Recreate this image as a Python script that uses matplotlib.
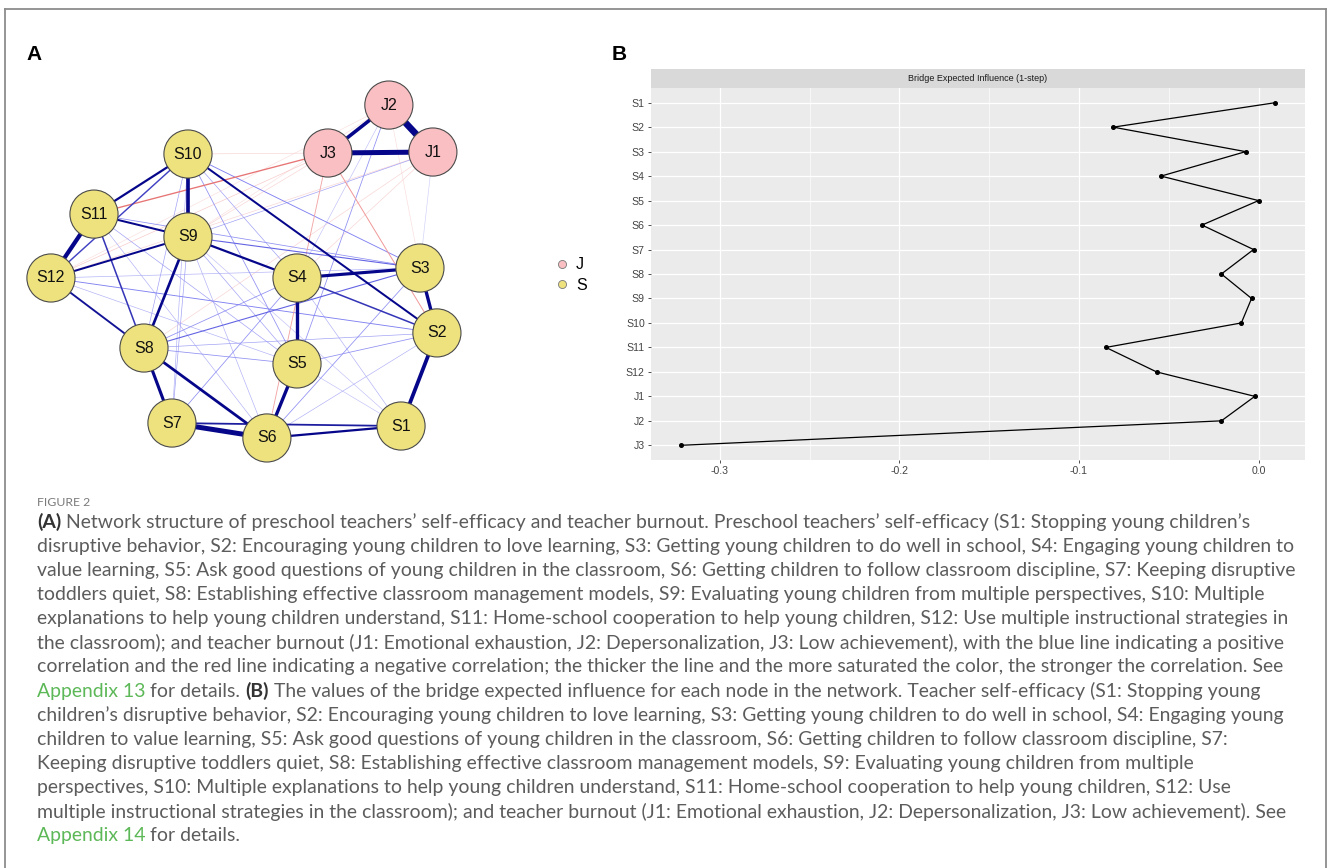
import re
import numpy as np
import matplotlib
matplotlib.use('Agg')
import matplotlib.pyplot as plt
from matplotlib.colors import LinearSegmentedColormap
from matplotlib.lines import Line2D
from matplotlib.patches import Rectangle

# ---------------- data ----------------
# network nodes (qgraph-like layout, units -1..1)
node_names = ["J1", "J2", "J3", "S1", "S2", "S3", "S4", "S5", "S6", "S7", "S8", "S9", "S10", "S11", "S12"]
node_group = ["J", "J", "J", "S", "S", "S", "S", "S", "S", "S", "S", "S", "S", "S", "S"]
layout_x = [0.984, 0.756, 0.440, 0.819, 1.005, 0.917, 0.280, 0.280, 0.124, -0.368, -0.513, -0.285, -0.285, -0.772, -0.995]
layout_y = [0.717, 1.000, 0.711, -0.934, -0.373, 0.018, -0.042, -0.560, -1.006, -0.916, -0.464, 0.205, 0.705, 0.343, -0.042]

# partial correlations (edge weights)
edge_from = ["J1", "J1", "J2", "S7", "S11", "S10", "S2", "S3", "S4", "S5", "S4", "S8", "S8", "S9",
             "S10", "S10", "S9", "S11", "S12", "S12", "S11", "S6", "S7", "S4", "S10",
             "S9", "S8", "S12", "S12", "S8", "S8", "S10", "S10", "S10", "S10", "S11", "S11", "S9", "S9",
             "S12", "S4", "S3", "S2", "S4", "S5", "S9", "S8", "S2", "S7", "S11", "S9",
             "J2", "J1", "J1", "J2",
             "J3", "J3", "J3", "J3", "J1", "J2", "J3", "J1", "J2", "J1", "J2", "J3"]
edge_to = ["J2", "J3", "J3", "S6", "S12", "S9", "S1", "S2", "S5", "S6", "S3", "S7", "S6", "S8",
           "S11", "S2", "S4", "S9", "S9", "S8", "S8", "S1", "S1", "S2", "S12",
           "S3", "S3", "S2", "S3", "S5", "S4", "S5", "S4", "S3", "S8", "S5", "S3", "S5", "S7",
           "S5", "S7", "S6", "S5", "S1", "S1", "S1", "S2", "S6", "S10", "S6", "S6",
           "S5", "S9", "S3", "S4",
           "S11", "S2", "S6", "S12", "S12", "S12", "S10", "S8", "S9", "S4", "S3", "S9"]
edge_weight = [0.60, 0.45, 0.32, 0.45, 0.38, 0.33, 0.34, 0.30, 0.30, 0.30, 0.28, 0.28, 0.25, 0.24,
               0.20, 0.18, 0.20, 0.18, 0.18, 0.17, 0.14, 0.20, 0.16, 0.14, 0.13,
               0.10, 0.10, 0.08, 0.05, 0.07, 0.07, 0.07, 0.06, 0.08, 0.06, 0.06, 0.07, 0.06, 0.06,
               0.05, 0.07, 0.07, 0.07, 0.05, 0.04, 0.04, 0.06, 0.05, 0.05, 0.05, 0.05,
               0.07, 0.06, 0.03, 0.04,
               -0.12, -0.09, -0.08, -0.05, -0.04, -0.03, -0.04, -0.04, -0.03, -0.04, -0.03, -0.04]

group_labels = ["J", "S"]
group_colors = {"J": "#F9BFC3", "S": "#EEE27E"}

# bridge expected influence (1-step)
bei_nodes = ["S1", "S2", "S3", "S4", "S5", "S6", "S7", "S8", "S9", "S10", "S11", "S12", "J1", "J2", "J3"]
bei_values = [0.0093, -0.0809, -0.0072, -0.0543, 0.0000, -0.0315, -0.0028, -0.0207, -0.0039,
              -0.0096, -0.0850, -0.0568, -0.0021, -0.0207, -0.3217]
bei_xticks = [-0.3, -0.2, -0.1, 0.0]

caption_head = "FIGURE 2"
caption_lines = [
    "**(A)** Network structure of preschool teachers\u2019 self-efficacy and teacher burnout. Preschool teachers\u2019 self-efficacy (S1: Stopping young children\u2019s",
    "disruptive behavior, S2: Encouraging young children to love learning, S3: Getting young children to do well in school, S4: Engaging young children to",
    "value learning, S5: Ask good questions of young children in the classroom, S6: Getting children to follow classroom discipline, S7: Keeping disruptive",
    "toddlers quiet, S8: Establishing effective classroom management models, S9: Evaluating young children from multiple perspectives, S10: Multiple",
    "explanations to help young children understand, S11: Home-school cooperation to help young children, S12: Use multiple instructional strategies in",
    "the classroom); and teacher burnout (J1: Emotional exhaustion, J2: Depersonalization, J3: Low achievement), with the blue line indicating a positive",
    "correlation and the red line indicating a negative correlation; the thicker the line and the more saturated the color, the stronger the correlation. See",
    "[[Appendix 13]] for details. **(B)** The values of the bridge expected influence for each node in the network. Teacher self-efficacy (S1: Stopping young",
    "children\u2019s disruptive behavior, S2: Encouraging young children to love learning, S3: Getting young children to do well in school, S4: Engaging young",
    "children to value learning, S5: Ask good questions of young children in the classroom, S6: Getting children to follow classroom discipline, S7:",
    "Keeping disruptive toddlers quiet, S8: Establishing effective classroom management models, S9: Evaluating young children from multiple",
    "perspectives, S10: Multiple explanations to help young children understand, S11: Home-school cooperation to help young children, S12: Use",
    "multiple instructional strategies in the classroom); and teacher burnout (J1: Emotional exhaustion, J2: Depersonalization, J3: Low achievement). See",
    "[[Appendix 14]] for details.",
]

# ---------------- figure ----------------
W, H = 1328, 868
fig = plt.figure(figsize=(W / 100, H / 100), dpi=100)
fig.patch.set_facecolor('white')


def fx(px):
    return px / W


def fy(py):
    return 1 - py / H


# outer frame
for xs, ys in [([5, 5], [9, 868]), ([5, 1326], [9, 9]), ([1326, 1326], [9, 868])]:
    fig.add_artist(Line2D([fx(v) for v in xs], [fy(v) for v in ys], color='#8c8c8c', lw=1.3))

# ---------------- panel A: network ----------------
ax_a = fig.add_axes([0, fy(470), fx(600), (470 - 40) / H])
ax_a.set_xlim(-1.259, 1.850)
ax_a.set_ylim(-1.199, 1.392)
ax_a.axis('off')

pos = {n: (x, y) for n, x, y in zip(node_names, layout_x, layout_y)}
blues = LinearSegmentedColormap.from_list('pos', ['#FFFFFF', '#7070F0', '#06068A'])
reds = LinearSegmentedColormap.from_list('neg', ['#FFFFFF', '#F09A9A', '#D42A2A'])
max_w = max(abs(w) for w in edge_weight)

order = np.argsort(np.abs(edge_weight))
for i in order:
    a, b, w = edge_from[i], edge_to[i], edge_weight[i]
    strength = min(1.0, abs(w) / 0.18)
    col = blues(strength) if w > 0 else reds(strength)
    lw = max(0.45, 4.8 * abs(w) / max_w)
    ax_a.plot([pos[a][0], pos[b][0]], [pos[a][1], pos[b][1]], color=col, lw=lw,
              solid_capstyle='butt', zorder=1)

ax_a.scatter(layout_x, layout_y, s=1200, c=[group_colors[g] for g in node_group],
             edgecolors='#4a4a4a', linewidths=0.8, zorder=3)
for n, x, y in zip(node_names, layout_x, layout_y):
    ax_a.text(x, y, n, ha='center', va='center', fontsize=11.5, family='Liberation Sans',
              color='#111111', zorder=4)

handles = [Line2D([], [], ls='none', marker='o', ms=5.8, mfc=group_colors[g], mec='#777777',
                  mew=0.6, label=g) for g in group_labels]
ax_a.legend(handles=handles, loc='upper left', bbox_to_anchor=(fx(540), fy(243)),
            bbox_transform=fig.transFigure, frameon=False, handletextpad=0.35,
            labelspacing=0.35, handlelength=1.0, prop={'family': 'Liberation Sans', 'size': 11.5})

fig.text(fx(26), fy(54), 'A', fontsize=15, fontweight='bold', family='Liberation Sans', va='center')
fig.text(fx(612), fy(54), 'B', fontsize=15, fontweight='bold', family='Liberation Sans', va='center')

# ---------------- panel B: bridge expected influence ----------------
ax_b = fig.add_axes([fx(651), fy(460), fx(1305) - fx(651), (460 - 88) / H])
ax_b.set_facecolor('#EBEBEB')
ypos = np.arange(len(bei_nodes))[::-1]
ax_b.plot(bei_values, ypos, color='black', lw=0.9, marker='o', ms=2.6, zorder=3)
rng = max(bei_values) - min(bei_values)
ax_b.set_xlim(min(bei_values) - 0.05 * rng, max(bei_values) + 0.05 * rng)
ax_b.set_ylim(-0.6, len(bei_nodes) - 0.4)
ax_b.set_yticks(ypos)
ax_b.set_yticklabels(bei_nodes)
ax_b.set_xticks(bei_xticks)
ax_b.set_xticklabels(['%.1f' % v for v in bei_xticks])
ax_b.set_xticks([-0.25, -0.15, -0.05], minor=True)
ax_b.grid(which='major', color='white', lw=0.9)
ax_b.grid(which='minor', axis='x', color='white', lw=0.45)
ax_b.set_axisbelow(True)
for sp in ax_b.spines.values():
    sp.set_visible(False)
ax_b.tick_params(axis='both', which='major', length=2.5, width=0.6, color='#333333',
                 labelsize=7.6, labelcolor='#444444', pad=2)
ax_b.tick_params(which='minor', length=0)
for lab in ax_b.get_xticklabels() + ax_b.get_yticklabels():
    lab.set_family('Liberation Sans')
strip_h = 19 / 372
ax_b.add_patch(Rectangle((0, 1), 1, strip_h, transform=ax_b.transAxes, clip_on=False,
                         facecolor='#D9D9D9', edgecolor='none'))
ax_b.text(0.5, 1 + strip_h / 2, 'Bridge Expected Influence (1-step)', transform=ax_b.transAxes,
          ha='center', va='center', fontsize=6.5, color='#1A1A1A', family='Liberation Sans')

# ---------------- caption ----------------
renderer = fig.canvas.get_renderer()
cap_font = 'Lato'


def text_width(s, **kw):
    t = fig.text(0, 0, s, **kw)
    w = t.get_window_extent(renderer).width
    t.remove()
    return w


plain2 = caption_lines[1]
size = 12 * 1256 / text_width(plain2, fontsize=12, family=cap_font)
head_size = 9 * 53 / text_width(caption_head, fontsize=9, family=cap_font)
fig.text(fx(37), fy(502), caption_head, fontsize=head_size, family=cap_font, color='#7a7a7a', va='center')

space = (text_width('a a', fontsize=size, family=cap_font)
         - text_width('aa', fontsize=size, family=cap_font))
styles = {'plain': dict(color='#5c5c5c'),
          'bold': dict(color='#333333', fontweight='bold'),
          'link': dict(color='#5DB858')}

for k, line in enumerate(caption_lines):
    y = 522 + 24.15 * k
    x = 37
    for part in re.split(r'(\*\*.*?\*\*|\[\[.*?\]\])', line):
        if not part:
            continue
        if part.startswith('**'):
            st, part = 'bold', part[2:-2]
        elif part.startswith('[['):
            st, part = 'link', part[2:-2]
        else:
            st = 'plain'
        lead = len(part) - len(part.lstrip(' '))
        trail = len(part) - len(part.rstrip(' '))
        core = part.strip(' ')
        x += lead * space
        if core:
            t = fig.text(fx(x), fy(y), core, fontsize=size, family=cap_font, va='center', **styles[st])
            x += t.get_window_extent(renderer).width
        x += trail * space

fig.savefig('out.png', dpi=100)
